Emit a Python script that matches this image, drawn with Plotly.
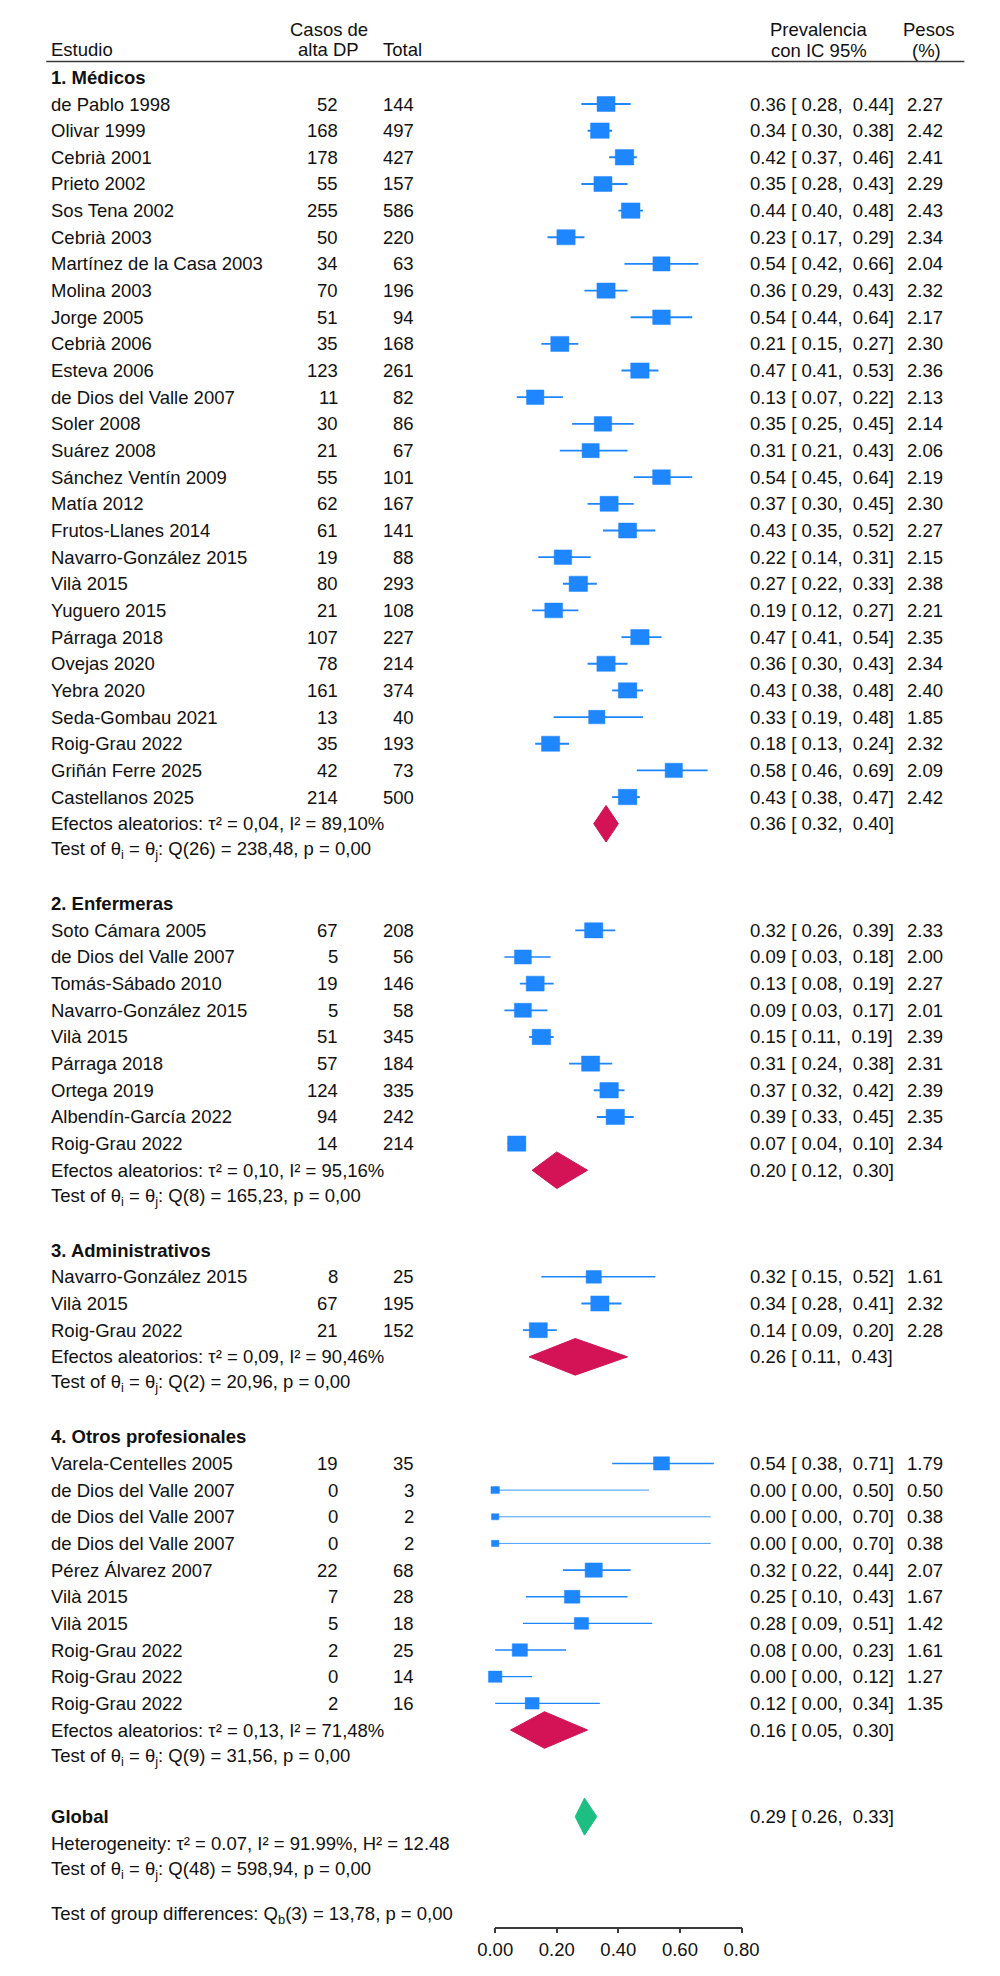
import math
import plotly.graph_objects as go

# ------------------------------------------------------------------ data
g1_study = ["de Pablo 1998", "Olivar 1999", "Cebrià 2001", "Prieto 2002", "Sos Tena 2002",
            "Cebrià 2003", "Martínez de la Casa 2003", "Molina 2003", "Jorge 2005", "Cebrià 2006",
            "Esteva 2006", "de Dios del Valle 2007", "Soler 2008", "Suárez 2008",
            "Sánchez Ventín 2009", "Matía 2012", "Frutos-Llanes 2014", "Navarro-González 2015",
            "Vilà 2015", "Yuguero 2015", "Párraga 2018", "Ovejas 2020", "Yebra 2020",
            "Seda-Gombau 2021", "Roig-Grau 2022", "Griñán Ferre 2025", "Castellanos 2025"]
g1_cases = [52, 168, 178, 55, 255, 50, 34, 70, 51, 35, 123, 11, 30, 21, 55, 62, 61, 19, 80, 21,
            107, 78, 161, 13, 35, 42, 214]
g1_total = [144, 497, 427, 157, 586, 220, 63, 196, 94, 168, 261, 82, 86, 67, 101, 167, 141, 88,
            293, 108, 227, 214, 374, 40, 193, 73, 500]
g1_est = [0.36, 0.34, 0.42, 0.35, 0.44, 0.23, 0.54, 0.36, 0.54, 0.21, 0.47, 0.13, 0.35, 0.31,
          0.54, 0.37, 0.43, 0.22, 0.27, 0.19, 0.47, 0.36, 0.43, 0.33, 0.18, 0.58, 0.43]
g1_lo = [0.28, 0.30, 0.37, 0.28, 0.40, 0.17, 0.42, 0.29, 0.44, 0.15, 0.41, 0.07, 0.25, 0.21,
         0.45, 0.30, 0.35, 0.14, 0.22, 0.12, 0.41, 0.30, 0.38, 0.19, 0.13, 0.46, 0.38]
g1_hi = [0.44, 0.38, 0.46, 0.43, 0.48, 0.29, 0.66, 0.43, 0.64, 0.27, 0.53, 0.22, 0.45, 0.43,
         0.64, 0.45, 0.52, 0.31, 0.33, 0.27, 0.54, 0.43, 0.48, 0.48, 0.24, 0.69, 0.47]
g1_weight = [2.27, 2.42, 2.41, 2.29, 2.43, 2.34, 2.04, 2.32, 2.17, 2.30, 2.36, 2.13, 2.14, 2.06,
             2.19, 2.30, 2.27, 2.15, 2.38, 2.21, 2.35, 2.34, 2.40, 1.85, 2.32, 2.09, 2.42]

g2_study = ["Soto Cámara 2005", "de Dios del Valle 2007", "Tomás-Sábado 2010",
            "Navarro-González 2015", "Vilà 2015", "Párraga 2018", "Ortega 2019",
            "Albendín-García 2022", "Roig-Grau 2022"]
g2_cases = [67, 5, 19, 5, 51, 57, 124, 94, 14]
g2_total = [208, 56, 146, 58, 345, 184, 335, 242, 214]
g2_est = [0.32, 0.09, 0.13, 0.09, 0.15, 0.31, 0.37, 0.39, 0.07]
g2_lo = [0.26, 0.03, 0.08, 0.03, 0.11, 0.24, 0.32, 0.33, 0.04]
g2_hi = [0.39, 0.18, 0.19, 0.17, 0.19, 0.38, 0.42, 0.45, 0.10]
g2_weight = [2.33, 2.00, 2.27, 2.01, 2.39, 2.31, 2.39, 2.35, 2.34]

g3_study = ["Navarro-González 2015", "Vilà 2015", "Roig-Grau 2022"]
g3_cases = [8, 67, 21]
g3_total = [25, 195, 152]
g3_est = [0.32, 0.34, 0.14]
g3_lo = [0.15, 0.28, 0.09]
g3_hi = [0.52, 0.41, 0.20]
g3_weight = [1.61, 2.32, 2.28]

g4_study = ["Varela-Centelles 2005", "de Dios del Valle 2007", "de Dios del Valle 2007",
            "de Dios del Valle 2007", "Pérez Álvarez 2007", "Vilà 2015", "Vilà 2015",
            "Roig-Grau 2022", "Roig-Grau 2022", "Roig-Grau 2022"]
g4_cases = [19, 0, 0, 0, 22, 7, 5, 2, 0, 2]
g4_total = [35, 3, 2, 2, 68, 28, 18, 25, 14, 16]
g4_est = [0.54, 0.00, 0.00, 0.00, 0.32, 0.25, 0.28, 0.08, 0.00, 0.12]
g4_lo = [0.38, 0.00, 0.00, 0.00, 0.22, 0.10, 0.09, 0.00, 0.00, 0.00]
g4_hi = [0.71, 0.50, 0.70, 0.70, 0.44, 0.43, 0.51, 0.23, 0.12, 0.34]
g4_weight = [1.79, 0.50, 0.38, 0.38, 2.07, 1.67, 1.42, 1.61, 1.27, 1.35]

group_labels = ["1. Médicos", "2. Enfermeras", "3. Administrativos", "4. Otros profesionales"]
pooled_est = [0.36, 0.20, 0.26, 0.16]
pooled_lo = [0.32, 0.12, 0.11, 0.05]
pooled_hi = [0.40, 0.30, 0.43, 0.30]
group_tau2 = ["0,04", "0,10", "0,09", "0,13"]
group_i2 = ["89,10", "95,16", "90,46", "71,48"]
group_qdf = [26, 8, 2, 9]
group_q = ["238,48", "165,23", "20,96", "31,56"]

overall_est, overall_lo, overall_hi = 0.29, 0.26, 0.33
overall_het = "Heterogeneity: τ² = 0.07, I² = 91.99%, H² = 12.48"
overall_test = "Test of θ<sub>i</sub> = θ<sub>j</sub>: Q(48) = 598,94, p = 0,00"
group_diff = "Test of group differences: Q<sub>b</sub>(3) = 13,78, p = 0,00"

tick_vals = [0.0, 0.2, 0.4, 0.6, 0.8]
tick_text = ["0.00", "0.20", "0.40", "0.60", "0.80"]

groups = [
    (g1_study, g1_cases, g1_total, g1_est, g1_lo, g1_hi, g1_weight),
    (g2_study, g2_cases, g2_total, g2_est, g2_lo, g2_hi, g2_weight),
    (g3_study, g3_cases, g3_total, g3_est, g3_lo, g3_hi, g3_weight),
    (g4_study, g4_cases, g4_total, g4_est, g4_lo, g4_hi, g4_weight),
]

# ------------------------------------------------------------------ layout constants
OFF = 8                   # default page body margin
FW, FH = 1000 - 2 * OFF, 1976 - 2 * OFF   # keep the page free of scrollbars
ROW_PX = 26.656           # pixel height of one row
ROW1_PX = 104.0           # page pixel centre of row 1
AXIS_PX = 1926.7          # page pixel position of the x axis line
X0_PX, X08_PX = 495.0, 750.7
XPX = (X08_PX - X0_PX) / 0.8   # pixels per unit

BLUE = "#1E86FF"
RED = "#D31356"
GREEN = "#1DBE82"
TXT = "#111111"
FONT = "Liberation Sans, Arial, sans-serif"
FS = 18.5


def px(xpage):
    return (xpage - OFF) / FW


y_bottom = 1 + (AXIS_PX - ROW1_PX) / ROW_PX
y_top = 1 + (OFF - ROW1_PX) / ROW_PX

# data axis (x2): wider domain, same pixel scale as the visible axis
D2 = (px(400), px(800))
x2_range = [(400 - X0_PX) / XPX, (800 - X0_PX) / XPX]

fig = go.Figure()
annotations = []


def txt(xpage, row, text, anchor="left", bold=False):
    annotations.append(dict(
        x=px(xpage), xref="paper", y=row, yref="y", text=("<b>%s</b>" % text) if bold else text,
        xanchor=anchor, yanchor="middle", showarrow=False,
        font=dict(family=FONT, size=FS, color=TXT)))


def ci_text(e, l, h):
    return "%.2f [\u00a0%.2f,\u00a0\u00a0%.2f]" % (e, l, h)


# header
txt(32, -1.03, "Estudio")
txt(322, -1.78, "Casos de", "center")
txt(322, -1.03, "alta DP", "center")
txt(399, -1.03, "Total", "center")
txt(831, -1.80, "Prevalencia", "center")
txt(831, -1.00, "con IC 95%", "center")
txt(945, -1.80, "Pesos", "center")
txt(943, -1.00, "(%)", "center")

box_x, box_y = [], []
row = 0
for gi, (study, cases, total, est, lo, hi, wt) in enumerate(groups):
    txt(32, row, group_labels[gi], bold=True)
    for k in range(len(study)):
        row += 1
        txt(32, row, study[k])
        txt(334, row, str(cases[k]), "right")
        txt(413, row, str(total[k]), "right")
        txt(757, row, ci_text(est[k], lo[k], hi[k]))
        txt(962, row, "%.2f" % wt[k], "right")
        # CI line
        fig.add_trace(go.Scatter(
            x=[lo[k], hi[k]], y=[row, row], mode="lines", xaxis="x2", yaxis="y",
            line=dict(color=BLUE, width=0.6 + 0.55 * wt[k]), hoverinfo="skip", showlegend=False))
        # box (area proportional to weight)
        bw = 12.4 * math.sqrt(wt[k])
        hw = bw / 2 / XPX
        hh = 0.8 * bw / 2 / ROW_PX
        e = est[k]
        box_x += [e - hw, e + hw, e + hw, e - hw, e - hw, None]
        box_y += [row - hh, row - hh, row + hh, row + hh, row - hh, None]
    # pooled
    row += 1
    dh = 18.3 / ROW_PX
    fig.add_trace(go.Scatter(
        x=[pooled_lo[gi], pooled_est[gi], pooled_hi[gi], pooled_est[gi], pooled_lo[gi]],
        y=[row, row - dh, row, row + dh, row], mode="lines", fill="toself",
        fillcolor=RED, line=dict(color=RED, width=1), xaxis="x2", yaxis="y",
        hoverinfo="skip", showlegend=False))
    txt(32, row, "Efectos aleatorios: τ² = %s, I² = %s%%" % (group_tau2[gi], group_i2[gi]))
    txt(757, row, ci_text(pooled_est[gi], pooled_lo[gi], pooled_hi[gi]))
    row += 1
    txt(32, row, "Test of θ<sub>i</sub> = θ<sub>j</sub>: Q(%d) = %s, p = 0,00" % (group_qdf[gi], group_q[gi]))
    if gi < len(groups) - 1:
        row += 2

fig.add_trace(go.Scatter(
    x=box_x, y=box_y, mode="lines", fill="toself", fillcolor=BLUE,
    line=dict(color=BLUE, width=0.5), xaxis="x2", yaxis="y",
    hoverinfo="skip", showlegend=False))

# overall
grow = row + 2.25
dh = 18.5 / ROW_PX
fig.add_trace(go.Scatter(
    x=[overall_lo, overall_est, overall_hi, overall_est, overall_lo],
    y=[grow, grow - dh, grow, grow + dh, grow], mode="lines", fill="toself",
    fillcolor=GREEN, line=dict(color=GREEN, width=1), xaxis="x2", yaxis="y",
    hoverinfo="skip", showlegend=False))
txt(32, grow, "Global", bold=True)
txt(757, grow, ci_text(overall_est, overall_lo, overall_hi))
txt(32, grow + 1, overall_het)
txt(32, grow + 2, overall_test)
txt(32, grow + 3.7, group_diff)

# invisible trace on the visible axis so the subplot is drawn
fig.add_trace(go.Scatter(x=[0], y=[0], mode="markers", marker=dict(opacity=0),
                         hoverinfo="skip", showlegend=False))

fig.update_layout(
    width=FW, height=FH, margin=dict(l=0, r=0, t=0, b=0, pad=0),
    paper_bgcolor="white", plot_bgcolor="white", showlegend=False,
    annotations=annotations,
    shapes=[dict(type="line", xref="paper", yref="y", x0=px(29), x1=px(982),
                 y0=-0.594, y1=-0.594, line=dict(color="#3a3a3a", width=1.5))],
    xaxis=dict(domain=[px(X0_PX), px(X08_PX)], range=[0, 0.8], anchor="y",
               showgrid=False, zeroline=False, showline=True, linecolor="#3a3a3a", linewidth=1.5,
               ticks="outside", ticklen=5, tickwidth=1.5, tickcolor="#3a3a3a",
               tickvals=tick_vals, ticktext=tick_text,
               tickfont=dict(family=FONT, size=FS, color=TXT), fixedrange=True),
    xaxis2=dict(domain=list(D2), range=x2_range, anchor="y", visible=False, fixedrange=True),
    yaxis=dict(domain=[1 - (AXIS_PX - OFF) / FH, 1], range=[y_bottom, y_top], visible=False,
               fixedrange=True),
)

fig.write_html("out.html")
